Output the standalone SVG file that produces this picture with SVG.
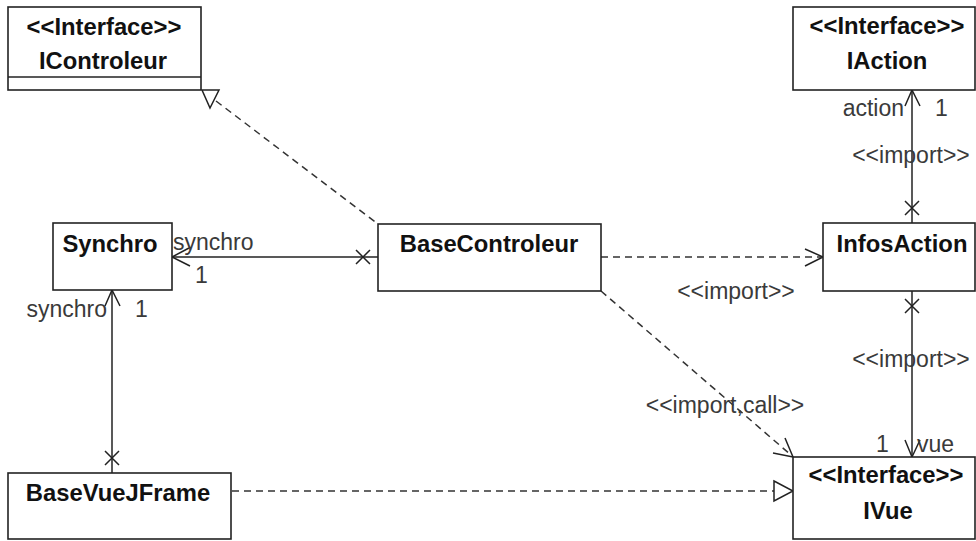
<svg xmlns="http://www.w3.org/2000/svg" width="976" height="541" viewBox="0 0 976 541">
<style>
.box{fill:#fff;stroke:#222;stroke-width:1.6}
.name{font-family:"Liberation Sans",Arial,sans-serif;font-weight:bold;font-size:23.8px;fill:#111;text-anchor:middle}
.lbl{font-family:"Liberation Sans",Arial,sans-serif;font-size:23px;fill:#3a3a3a}
.ln{stroke:#222;stroke-width:1.5;fill:none}
.dash{stroke:#333;stroke-width:1.5;fill:none;stroke-dasharray:7 5}
.head{stroke:#222;stroke-width:1.5;fill:none}
.tri{stroke:#222;stroke-width:1.5;fill:#fff}
</style>
<rect width="976" height="541" fill="#fff"/>
<g id="connectors">
  <line class="dash" x1="216" y1="101" x2="378" y2="224"/>
  <polygon class="tri" points="202,90 219,90 210,108"/>
  <line class="ln" x1="172" y1="257" x2="378" y2="257"/>
  <polyline class="head" points="189,248 172,257 190,266"/>
  <path class="head" d="M356,250 L370,264 M356,264 L370,250"/>
  <text class="lbl" x="173" y="250">synchro</text>
  <text class="lbl" x="195" y="283">1</text>
  <line class="ln" x1="112" y1="290" x2="112" y2="473"/>
  <polyline class="head" points="105,306 112,290 120,306"/>
  <path class="head" d="M105,451 L119,465 M105,465 L119,451"/>
  <text class="lbl" x="107" y="317" text-anchor="end">synchro</text>
  <text class="lbl" x="135" y="317">1</text>
  <line class="dash" x1="601" y1="257" x2="821" y2="257"/>
  <polyline class="head" points="805,249 823,257 805,266"/>
  <text class="lbl" x="736" y="299" text-anchor="middle">&lt;&lt;import&gt;&gt;</text>
  <line class="ln" x1="912" y1="90" x2="912" y2="224"/>
  <polyline class="head" points="905,106 912,90 920,106"/>
  <path class="head" d="M905,201 L919,215 M905,215 L919,201"/>
  <text class="lbl" x="904" y="116" text-anchor="end">action</text>
  <text class="lbl" x="935" y="116">1</text>
  <text class="lbl" x="911" y="163" text-anchor="middle">&lt;&lt;import&gt;&gt;</text>
  <line class="ln" x1="912" y1="291" x2="912" y2="457"/>
  <path class="head" d="M905,299 L919,313 M905,313 L919,299"/>
  <polyline class="head" points="905,440 912,457 920,440"/>
  <text class="lbl" x="911" y="367" text-anchor="middle">&lt;&lt;import&gt;&gt;</text>
  <text class="lbl" x="876" y="452">1</text>
  <text class="lbl" x="917" y="452">vue</text>
  <line class="dash" x1="601" y1="291" x2="791" y2="455"/>
  <polyline class="head" points="773,453 793,457 785,438"/>
  <text class="lbl" x="725" y="413" text-anchor="middle">&lt;&lt;import,call&gt;&gt;</text>
  <line class="dash" x1="232" y1="491" x2="774" y2="491"/>
  <polygon class="tri" points="774,481 793,491 774,501"/>
</g>
<g id="IControleur">
  <rect class="box" x="8" y="7" width="193" height="83"/>
  <line class="ln" x1="8" y1="77" x2="201" y2="77"/>
  <text class="name" x="104" y="35">&lt;&lt;Interface&gt;&gt;</text>
  <text class="name" x="103" y="69">IControleur</text>
</g>
<g id="IAction">
  <rect class="box" x="793" y="7" width="182" height="83"/>
  <text class="name" x="887" y="34">&lt;&lt;Interface&gt;&gt;</text>
  <text class="name" x="887" y="69">IAction</text>
</g>
<g id="Synchro">
  <rect class="box" x="53" y="223" width="119" height="67"/>
  <text class="name" x="110" y="252">Synchro</text>
</g>
<g id="BaseControleur">
  <rect class="box" x="378" y="224" width="223" height="67"/>
  <text class="name" x="489" y="252">BaseControleur</text>
</g>
<g id="InfosAction">
  <rect class="box" x="823" y="223" width="152" height="68"/>
  <text class="name" x="902" y="252">InfosAction</text>
</g>
<g id="BaseVueJFrame">
  <rect class="box" x="8" y="473" width="223" height="66"/>
  <text class="name" x="118" y="501">BaseVueJFrame</text>
</g>
<g id="IVue">
  <rect class="box" x="793" y="457" width="182" height="82"/>
  <text class="name" x="886" y="483">&lt;&lt;Interface&gt;&gt;</text>
  <text class="name" x="888" y="519">IVue</text>
</g>
</svg>
